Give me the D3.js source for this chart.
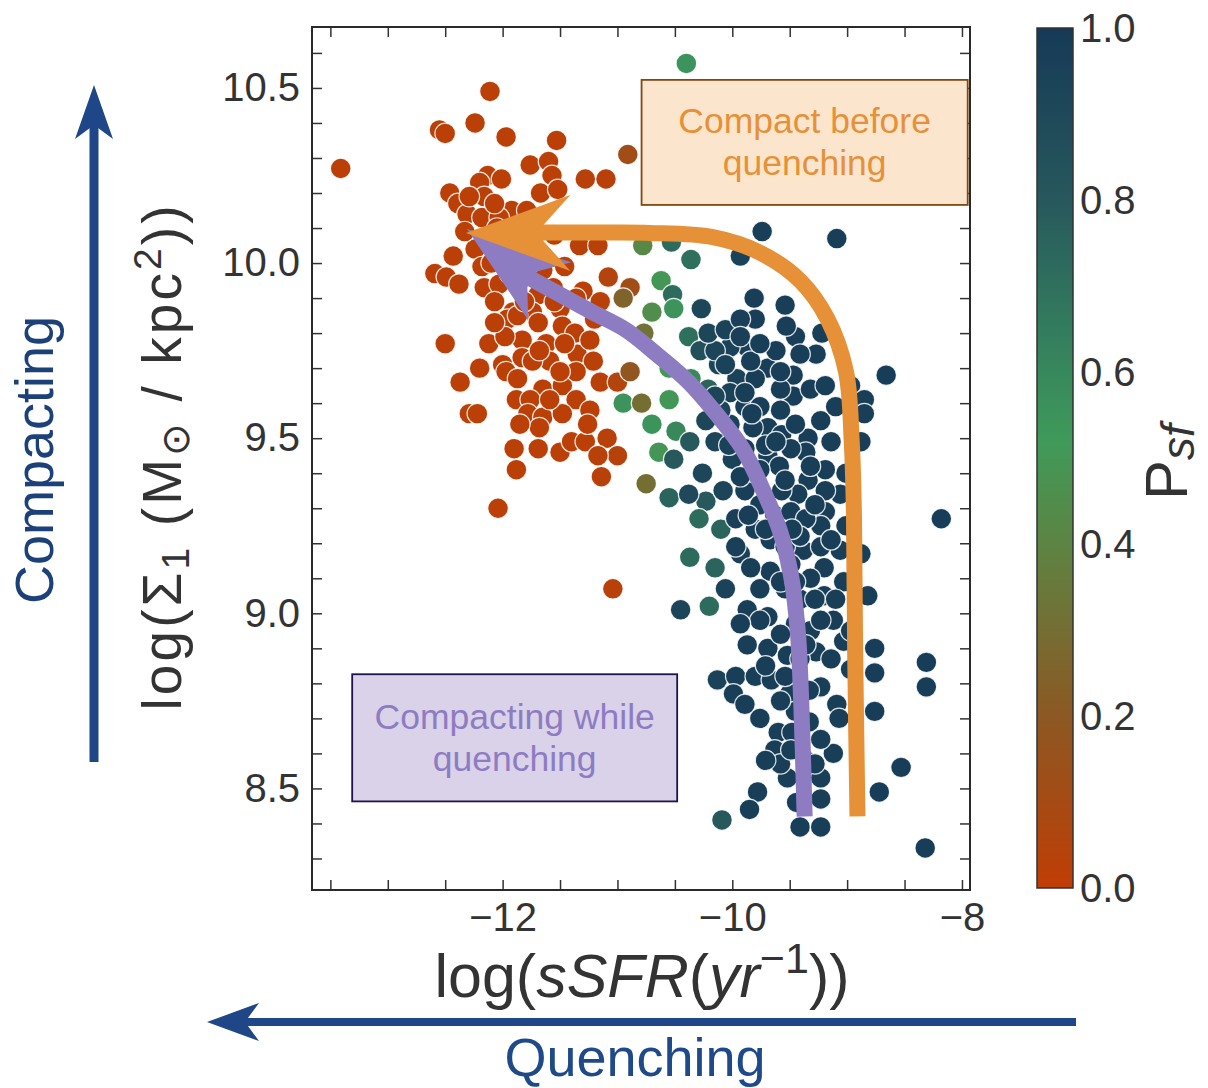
<!DOCTYPE html>
<html><head><meta charset="utf-8">
<script src="https://cdn.jsdelivr.net/npm/d3@7"></script>
<style>
body{margin:0;background:#fff}
svg{display:block}
text{font-family:"Liberation Sans",Arial,Helvetica,sans-serif}
</style>
</head><body>
<svg id="chart" width="1208" height="1088"></svg>
<script>
// ---------- DATA ----------
// [log sSFR, log Sigma1, P_sf]
const quenched = [
[-13.41,10.27,0.02],[-12.11,10.49,0.02],[-12.55,10.38,0.02],[-12.50,10.37,0.02],[-12.24,10.40,0.02],
[-11.97,10.36,0.02],[-11.53,10.35,0.02],[-11.76,10.28,0.02],[-11.60,10.29,0.02],[-11.57,10.25,0.02],
[-11.28,10.24,0.03],[-11.10,10.24,0.03],[-12.13,10.25,0.02],[-12.20,10.23,0.02],[-12.01,10.24,0.02],
[-12.46,10.20,0.02],[-12.39,10.17,0.02],[-12.16,10.19,0.02],[-12.31,10.14,0.02],[-12.18,10.13,0.02],
[-11.67,10.20,0.02],[-11.52,10.21,0.02],[-11.92,10.15,0.02],[-12.03,10.13,0.02],[-11.79,10.15,0.02],
[-12.43,10.02,0.02],[-12.59,9.97,0.02],[-12.49,9.96,0.02],[-12.38,9.94,0.02],[-12.24,10.04,0.02],
[-12.18,9.99,0.02],[-12.16,9.93,0.02],[-12.03,9.94,0.02],[-11.33,10.05,0.03],[-11.17,10.05,0.03],
[-11.08,9.96,0.05],[-11.69,9.91,0.02],[-11.56,9.93,0.02],[-11.30,9.92,0.02],[-11.91,9.86,0.02],
[-11.74,9.86,0.02],[-11.50,9.87,0.02],[-12.50,9.77,0.02],[-12.12,9.77,0.02],[-12.20,9.70,0.02],
[-12.37,9.66,0.02],[-12.29,9.57,0.02],[-12.22,9.57,0.02],[-11.96,9.84,0.02],[-11.87,9.85,0.02],
[-11.69,9.83,0.02],[-11.48,9.82,0.02],[-11.37,9.80,0.02],[-11.83,9.78,0.02],[-11.62,9.77,0.02],
[-11.83,9.73,0.02],[-11.59,9.72,0.02],[-11.35,9.74,0.02],[-11.21,9.72,0.03],[-12.00,9.71,0.02],
[-11.97,9.69,0.02],[-11.87,9.67,0.02],[-11.65,9.64,0.02],[-11.48,9.65,0.02],[-11.36,9.61,0.02],
[-11.36,9.69,0.02],[-11.15,9.66,0.03],[-11.00,9.66,0.05],[-11.88,9.61,0.02],[-11.76,9.61,0.02],
[-11.78,9.57,0.02],[-11.65,9.56,0.02],[-11.48,9.57,0.02],[-11.68,9.53,0.02],[-11.90,9.47,0.02],
[-11.69,9.47,0.02],[-11.50,9.46,0.02],[-11.40,9.49,0.02],[-11.28,9.49,0.02],[-11.09,9.50,0.03],
[-11.00,9.45,0.04],[-11.88,9.41,0.02],[-11.14,9.39,0.03],[-12.04,9.30,0.02],[-11.04,9.07,0.03],
[-11.94,9.97,0.02],[-11.85,9.95,0.02],[-11.46,9.99,0.02],[-11.65,9.98,0.02],[-11.36,9.90,0.02],
[-12.05,10.10,0.02],[-11.76,10.06,0.02],[-11.55,10.08,0.02],[-12.33,10.09,0.02],[-12.07,9.89,0.02],
[-11.81,9.89,0.02],[-11.98,9.79,0.02],[-11.74,9.72,0.02],[-11.50,9.69,0.02],[-11.24,9.78,0.02],
[-11.20,9.84,0.02],[-11.59,9.61,0.02],[-11.24,9.58,0.02],[-11.15,9.89,0.03],
[-12.07,10.17,0.02],[-12.29,10.19,0.02],[-12.10,10.00,0.02],[-11.76,10.00,0.02],[-11.55,9.89,0.02],
[-11.68,9.75,0.02],[-11.46,9.77,0.02],[-11.85,9.54,0.02],[-11.26,9.54,0.02],[-11.17,9.45,0.03],
[-12.07,9.83,0.02]
];
const transition = [
[-10.91,10.31,0.12],[-10.40,10.57,0.55],[-10.78,10.05,0.42],[-10.53,10.06,0.72],[-10.36,10.01,0.70],
[-10.62,9.95,0.50],[-10.89,9.93,0.12],[-10.95,9.90,0.25],[-10.52,9.91,0.72],[-10.51,9.87,0.55],
[-10.70,9.86,0.45],[-10.77,9.80,0.32],[-10.89,9.69,0.18],[-10.95,9.60,0.55],[-10.79,9.60,0.30],
[-10.75,9.37,0.30],[-10.64,9.46,0.50],[-10.51,9.44,0.80],[-10.70,9.54,0.55],[-10.49,9.52,0.60],
[-10.55,9.61,0.50],[-10.38,9.79,0.70],[-10.36,9.67,0.60],[-10.21,9.64,0.75],[-10.37,9.49,0.80],
[-10.55,9.33,0.75],[-10.23,9.32,0.80],[-10.37,9.16,0.72],[-10.15,9.13,0.75],[-10.29,9.27,0.72],
[-10.10,9.24,0.75],[-10.20,9.02,0.72],[-10.09,8.41,0.80],[-10.55,9.70,0.50],[-10.28,9.75,0.85]
];
const starForming = [
[-9.74,10.09,0.97],[-9.09,10.07,0.97],[-9.93,10.02,0.95],[-9.81,9.90,0.97],[-10.27,9.87,0.92],
[-9.80,9.84,0.97],[-9.45,9.79,0.97],[-9.27,9.74,0.97],[-8.66,9.68,0.98],[-8.18,9.27,0.98],
[-8.97,9.65,0.97],[-8.85,9.61,0.97],[-8.85,9.57,0.97],[-8.88,9.49,0.97],[-9.14,9.49,0.97],
[-9.19,9.41,0.97],[-9.34,9.50,0.97],[-9.34,9.38,0.97],[-9.47,9.68,0.97],[-9.47,9.62,0.97],
[-9.32,9.64,0.97],[-9.69,9.70,0.97],[-9.96,9.67,0.95],[-9.80,9.67,0.97],[-9.87,9.76,0.97],
[-10.02,9.76,0.95],[-10.12,9.71,0.93],[-10.15,9.75,0.93],[-10.21,9.80,0.92],[-10.02,9.63,0.95],
[-9.89,9.59,0.97],[-9.69,9.53,0.97],[-9.57,9.51,0.97],[-9.82,9.53,0.97],[-9.69,9.45,0.97],
[-9.59,9.42,0.97],[-9.36,9.46,0.97],[-9.43,9.34,0.97],[-9.57,9.35,0.97],[-9.89,9.47,0.97],
[-10.00,9.44,0.95],[-10.26,9.40,0.92],[-10.08,9.35,0.93],[-10.38,9.34,0.90],[-9.19,9.29,0.97],
[-9.23,9.25,0.97],[-8.88,9.17,0.97],[-9.03,9.09,0.97],[-8.82,9.05,0.97],[-9.20,9.13,0.97],
[-9.38,9.18,0.97],[-10.45,9.01,0.93],[-10.06,9.07,0.95],[-9.87,9.01,0.97],[-9.69,8.99,0.97],
[-9.87,8.91,0.97],[-9.69,8.90,0.97],[-9.52,8.88,0.97],[-9.27,8.89,0.97],[-9.14,8.87,0.97],
[-9.12,8.98,0.97],[-9.03,8.92,0.97],[-9.20,9.05,0.97],[-8.76,8.90,0.98],[-8.76,8.83,0.98],
[-8.76,8.72,0.98],[-8.31,8.86,0.98],[-8.31,8.79,0.98],[-10.13,8.81,0.95],[-9.97,8.82,0.97],
[-9.80,8.82,0.97],[-9.66,8.81,0.97],[-9.99,8.77,0.97],[-9.50,8.77,0.97],[-9.23,8.79,0.97],
[-9.09,8.74,0.97],[-9.07,8.70,0.97],[-9.33,8.69,0.97],[-9.76,8.70,0.97],[-9.60,8.66,0.97],
[-9.48,8.66,0.97],[-9.63,8.61,0.97],[-9.12,8.60,0.97],[-9.52,8.53,0.97],[-9.23,8.53,0.97],
[-9.78,8.49,0.97],[-9.85,8.44,0.97],[-9.41,8.39,0.97],[-9.23,8.39,0.97],[-9.44,8.46,0.97],
[-8.72,8.49,0.98],[-8.53,8.56,0.98],[-8.32,8.33,0.98],
[-9.89,9.35,0.97],[-9.76,9.31,0.97],[-9.63,9.28,0.97],[-9.49,9.29,0.97],[-9.36,9.27,0.97],
[-9.80,9.24,0.97],[-9.67,9.21,0.97],[-9.54,9.19,0.97],[-9.41,9.22,0.97],[-9.49,9.14,0.97],
[-9.67,9.12,0.97],[-9.32,9.10,0.97],[-9.54,9.07,0.97],[-9.41,9.04,0.97],[-9.76,9.07,0.97],
[-9.93,9.17,0.96],[-9.97,9.27,0.96],[-9.76,9.41,0.97],[-9.49,9.47,0.97],[-9.71,9.48,0.97],
[-9.58,9.58,0.97],[-9.76,9.59,0.97],[-10.02,9.54,0.95],[-10.15,9.49,0.93],[-10.10,9.58,0.93],
[-10.23,9.55,0.92],[-9.23,9.55,0.97],[-9.10,9.59,0.97],[-9.01,9.40,0.97],[-9.06,9.34,0.97],
[-9.19,9.35,0.97],[-9.01,9.25,0.97],[-9.06,9.18,0.97],[-9.23,9.19,0.97],[-9.28,9.04,0.97],
[-9.10,9.04,0.97],[-9.45,8.97,0.97],[-9.32,8.95,0.97],[-9.58,8.94,0.97],[-9.41,8.87,0.97],
[-8.97,8.84,0.97],[-9.33,8.78,0.97],[-9.45,8.72,0.97],[-9.58,8.75,0.97],[-9.23,8.64,0.97],
[-9.36,8.58,0.97],[-9.23,8.47,0.97],[-9.58,8.57,0.97],[-10.06,9.81,0.95],[-9.93,9.84,0.96],
[-9.62,9.75,0.97],[-9.53,9.82,0.97],[-9.22,9.80,0.97],[-9.54,9.88,0.97],[-10.15,9.62,0.93],
[-9.84,9.72,0.97],[-9.58,9.64,0.97],[-9.93,9.39,0.97],
[-10.03,9.48,0.95],[-9.83,9.57,0.97],[-9.62,9.49,0.97],[-9.45,9.54,0.97],[-9.32,9.42,0.97],
[-9.54,9.38,0.97],[-9.86,9.28,0.97],[-9.71,9.24,0.97],[-9.48,9.24,0.97],[-9.28,9.31,0.97],
[-9.14,9.21,0.97],[-9.84,9.13,0.97],[-9.97,9.19,0.96],[-9.58,9.09,0.97],[-9.45,9.09,0.97],
[-9.76,8.98,0.97],[-9.93,8.97,0.97],[-9.23,8.98,0.97],[-8.97,8.95,0.97],[-9.36,8.91,0.97],
[-9.71,8.85,0.97],[-9.54,8.82,0.97],[-9.89,8.74,0.97],[-9.49,8.61,0.97],[-9.71,8.58,0.97],
[-9.28,8.57,0.97],[-9.93,9.79,0.96],[-9.76,9.77,0.97],[-9.41,9.74,0.97],[-9.58,9.69,0.97],
[-10.06,9.71,0.95],[-9.89,9.63,0.97],[-9.19,9.65,0.97]
];

const xTicks = [-13.5,-13,-12.5,-12,-11.5,-11,-10.5,-10,-9.5,-9,-8.5,-8];
const xTickLabels = [-12,-10,-8];
const yTicks = [8.3,8.4,8.5,8.6,8.7,8.8,8.9,9.0,9.1,9.2,9.3,9.4,9.5,9.6,9.7,9.8,9.9,10.0,10.1,10.2,10.3,10.4,10.5,10.6];
const yTickLabels = [8.5,9.0,9.5,10.0,10.5];
const cbTicks = [0,0.2,0.4,0.6,0.8,1.0];
const cmapStops  = [0, 0.2, 0.4, 0.52, 0.65, 0.8, 1];
const cmapColors = ["#c03d05","#8c5823","#5d8443","#3f9a5a","#337c5e","#27585c","#163a57"];

// annotation paths (data coordinates)
const orangePath = [[-8.91,8.42],[-8.93,8.89],[-8.94,9.27],[-8.96,9.49],[-9.01,9.69],[-9.17,9.84],
  [-9.41,9.95],[-9.76,10.03],[-10.17,10.074],[-10.72,10.086],[-11.15,10.087],[-11.70,10.087]];
const orangeTip = [-12.32,10.086], orangeBase = [-11.41,10.086];
const purplePath = [[-9.37,8.42],[-9.40,8.75],[-9.43,8.95],[-9.49,9.11],[-9.59,9.24],[-9.73,9.35],
  [-9.91,9.47],[-10.14,9.57],[-10.38,9.66],[-10.66,9.74],[-10.93,9.81],[-11.22,9.86],[-11.50,9.91],[-11.78,9.96]];
const purpleTip = [-12.31,10.097], purpleBase = [-11.59,9.92];
const orangeBox = {x0:-10.79, x1:-7.95, y0:10.166, y1:10.523, lines:["Compact before","quenching"]};
const purpleBox = {x0:-13.31, x1:-10.48, y0:8.463, y1:8.826, lines:["Compacting while","quenching"]};

// ---------- CHART ----------
const svg = d3.select("#chart");
const L = 312, R = 970, T = 27, B = 890;
const x = d3.scaleLinear().domain([-13.66,-7.93]).range([L,R]);
const y = d3.scaleLinear().domain([8.21,10.674]).range([B,T]);
const color = d3.scaleLinear().domain(cmapStops).range(cmapColors).interpolate(d3.interpolateRgb);
const tickCol = "#333";

svg.append("defs").append("clipPath").attr("id","plotclip")
  .append("rect").attr("x",L).attr("y",T).attr("width",R-L).attr("height",B-T);

const dotsG = svg.append("g").attr("clip-path","url(#plotclip)");
[quenched, transition, starForming].forEach(arr => {
  dotsG.selectAll(null).data(arr).enter().append("circle")
    .attr("cx", d => x(d[0])).attr("cy", d => y(d[1])).attr("r", 10.3)
    .attr("fill", d => color(d[2]))
    .attr("stroke", "#fff").attr("stroke-width", 1.2).attr("stroke-opacity", 0.85);
});

// axes
const fmtX = d3.format("d"), fmtY = d3.format(".1f");
function styleAxis(g){
  g.select(".domain").remove();
  g.selectAll(".tick line").attr("stroke", tickCol).attr("stroke-width", 1.5);
  g.selectAll(".tick text").attr("fill", "#333").attr("font-size", 40)
    .attr("font-family", "Liberation Sans, Arial, sans-serif");
}
svg.append("g").attr("transform",`translate(0,${B})`)
  .call(d3.axisBottom(x).tickValues(xTicks).tickSizeInner(-10).tickSizeOuter(0).tickPadding(13)
    .tickFormat(d => xTickLabels.includes(d) ? fmtX(d) : ""))
  .call(styleAxis);
svg.append("g").attr("transform",`translate(0,${T})`)
  .call(d3.axisTop(x).tickValues(xTicks).tickSizeInner(-10).tickSizeOuter(0).tickFormat(""))
  .call(styleAxis);
svg.append("g").attr("transform",`translate(${L},0)`)
  .call(d3.axisLeft(y).tickValues(yTicks).tickSizeInner(-10).tickSizeOuter(0).tickPadding(12)
    .tickFormat(d => yTickLabels.includes(d) ? fmtY(d) : ""))
  .call(styleAxis);
svg.append("g").attr("transform",`translate(${R},0)`)
  .call(d3.axisRight(y).tickValues(yTicks).tickSizeInner(-10).tickSizeOuter(0).tickFormat(""))
  .call(styleAxis);

svg.append("rect").attr("x",L).attr("y",T).attr("width",R-L).attr("height",B-T)
  .attr("fill","none").attr("stroke","#2a2a2a").attr("stroke-width",2);

// curved arrows
const line = d3.line().x(d => x(d[0])).y(d => y(d[1])).curve(d3.curveCatmullRom.alpha(0.5));
function head(tipD, baseD, halfW, notch, shaftHalf, fill){
  const tip = [x(tipD[0]), y(tipD[1])], base = [x(baseD[0]), y(baseD[1])];
  const dx = tip[0]-base[0], dy = tip[1]-base[1], len = Math.hypot(dx,dy);
  const ux = dx/len, uy = dy/len, px = -uy, py = ux;
  const pts = [tip,
    [base[0]+halfW*px, base[1]+halfW*py],
    [base[0]+notch*ux+shaftHalf*px, base[1]+notch*uy+shaftHalf*py],
    [base[0]+notch*ux-shaftHalf*px, base[1]+notch*uy-shaftHalf*py],
    [base[0]-halfW*px, base[1]-halfW*py]];
  svg.append("path").attr("d","M"+pts.map(p=>p.join(",")).join("L")+"Z").attr("fill",fill);
}
const purple = "#8e7cc3", orange = "#e69138";
svg.append("path").attr("d", line(purplePath)).attr("fill","none").attr("stroke",purple).attr("stroke-width",16);
head(purpleTip, purpleBase, 36, 22, 8, purple);
svg.append("path").attr("d", line(orangePath)).attr("fill","none").attr("stroke",orange).attr("stroke-width",16);
head(orangeTip, orangeBase, 38, 27, 8, orange);

// boxes
function box(b, fill, stroke, txtCol){
  const x0 = x(b.x0), x1 = x(b.x1), y0 = y(b.y1), y1 = y(b.y0);
  svg.append("rect").attr("x",x0).attr("y",y0).attr("width",x1-x0).attr("height",y1-y0)
    .attr("fill",fill).attr("stroke",stroke).attr("stroke-width",1.8);
  const cx = (x0+x1)/2, cy = (y0+y1)/2;
  b.lines.forEach((t,i) => {
    svg.append("text").attr("x",cx).attr("y",cy + (i-0.5)*42 + 12).attr("text-anchor","middle")
      .attr("font-size",35.5).attr("fill",txtCol).text(t);
  });
}
box(orangeBox, "#fce5cd", "#7f4a12", "#e69138");
box(purpleBox, "#d9d2e9", "#20124d", "#8e7cc3");

// axis labels
const xl = svg.append("text").attr("x", 642).attr("y", 997).attr("text-anchor","middle")
  .attr("font-size", 61).attr("fill","#333");
xl.append("tspan").text("log(");
xl.append("tspan").attr("font-style","italic").text("sSFR");
xl.append("tspan").text("(");
xl.append("tspan").attr("font-style","italic").text("yr");
xl.append("tspan").attr("font-size",43).attr("dy",-24).text("−1");
xl.append("tspan").attr("dy",24).text("))");

const yl = svg.append("text").attr("transform","translate(181,458) rotate(-90)")
  .attr("text-anchor","middle").attr("font-size",55).attr("fill","#333")
  .attr("textLength",505).attr("lengthAdjust","spacing");
yl.append("tspan").text("log(Σ");
yl.append("tspan").attr("font-size",39).attr("dy",8).text("1");
yl.append("tspan").attr("dy",-8).text(" (M");
yl.append("tspan").attr("font-size",39).attr("dy",8).text("⊙");
yl.append("tspan").attr("dy",-8).text(" / kpc");
yl.append("tspan").attr("font-size",39).attr("dy",-20).text("2");
yl.append("tspan").attr("dy",20).text("))");

// colorbar
const cb = d3.scaleLinear().domain([0,1]).range([888,28]);
const grad = svg.select("defs").append("linearGradient").attr("id","cbgrad")
  .attr("x1",0).attr("y1",1).attr("x2",0).attr("y2",0);
cmapStops.forEach((s,i) => grad.append("stop").attr("offset",s).attr("stop-color",cmapColors[i]));
svg.append("rect").attr("x",1037).attr("y",cb(1)).attr("width",36).attr("height",cb(0)-cb(1))
  .attr("fill","url(#cbgrad)").attr("stroke","#333").attr("stroke-width",1.5);
svg.selectAll(null).data(cbTicks).enter().append("text")
  .attr("x",1080).attr("y",d => cb(d)).attr("dy","0.35em")
  .attr("font-size",40).attr("fill","#333").text(d => d3.format(".1f")(d));
const cl = svg.append("text").attr("transform","translate(1187,500) rotate(-90)")
  .attr("text-anchor","start").attr("font-size",60).attr("fill","#333");
cl.append("tspan").text("P");
cl.append("tspan").attr("font-size",46).attr("font-style","italic").attr("dy",7).text("sf");

// outer arrows
const navy = "#1f4788";
svg.append("line").attr("x1",94).attr("y1",762).attr("x2",94).attr("y2",120)
  .attr("stroke",navy).attr("stroke-width",9);
svg.append("path").attr("d","M94,85 L113,139 L94,125 L75,139 Z").attr("fill",navy);
svg.append("line").attr("x1",1076).attr("y1",1022).attr("x2",240).attr("y2",1022)
  .attr("stroke",navy).attr("stroke-width",8);
svg.append("path").attr("d","M207,1022 L259,1003 L245,1022 L259,1041 Z").attr("fill",navy);
svg.append("text").attr("transform","translate(53,460) rotate(-90)").attr("text-anchor","middle")
  .attr("font-size",54).attr("fill","#1c4078").text("Compacting");
svg.append("text").attr("x",635).attr("y",1076).attr("text-anchor","middle")
  .attr("font-size",54).attr("fill","#1f4a8a").text("Quenching");
</script>
</body></html>
